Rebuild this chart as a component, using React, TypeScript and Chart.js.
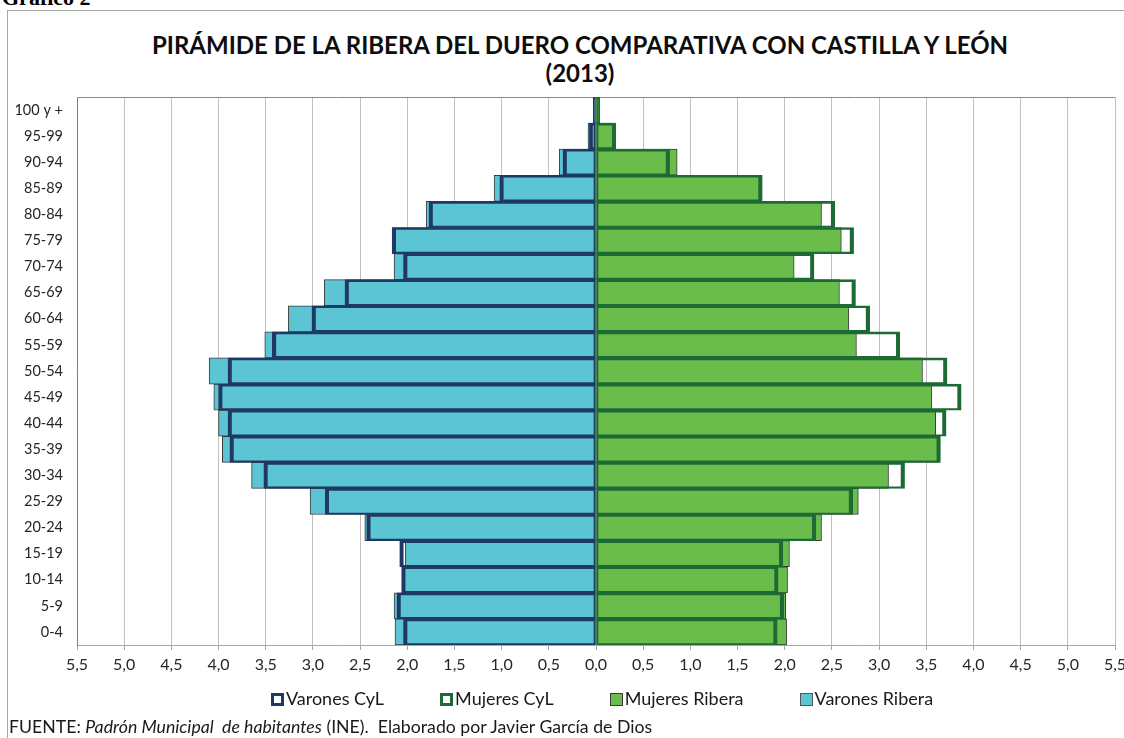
import React, { useEffect, useRef } from 'react';
import { Chart, registerables } from 'chart.js';

Chart.register(...registerables);

// ---- Data (percent of total population, 2013) ----
const ageGroups = [
  '0-4', '5-9', '10-14', '15-19', '20-24', '25-29', '30-34', '35-39', '40-44', '45-49',
  '50-54', '55-59', '60-64', '65-69', '70-74', '75-79', '80-84', '85-89', '90-94', '95-99', '100 y +',
];

const varonesCyL = [
  2.04, 2.11, 2.06, 2.08, 2.43, 2.87, 3.52, 3.88, 3.90, 4.00,
  3.90, 3.43, 3.01, 2.66, 2.04, 2.16, 1.77, 1.02, 0.35, 0.07, 0.03,
];

const mujeresCyL = [
  1.92, 1.99, 1.93, 1.98, 2.33, 2.72, 3.27, 3.65, 3.71, 3.87,
  3.72, 3.22, 2.90, 2.75, 2.31, 2.73, 2.53, 1.76, 0.78, 0.21, 0.04,
];

const mujeresRibera = [
  2.02, 2.01, 2.03, 2.05, 2.39, 2.78, 3.10, 3.64, 3.60, 3.56,
  3.46, 2.76, 2.68, 2.58, 2.10, 2.60, 2.39, 1.76, 0.86, 0.20, 0.04,
];

const varonesRibera = [
  2.13, 2.14, 2.04, 2.02, 2.45, 3.03, 3.65, 3.96, 4.00, 4.05,
  4.10, 3.51, 3.26, 2.88, 2.14, 2.16, 1.80, 1.08, 0.39, 0.085, 0.02,
];

const seriesLabels = ['Varones CyL', 'Mujeres CyL', 'Mujeres Ribera', 'Varones Ribera'];

const titleLines = [
  'PIRÁMIDE DE LA RIBERA DEL DUERO COMPARATIVA CON CASTILLA Y LEÓN',
  '(2013)',
];

const axisMin = -5.5;
const axisMax = 5.5;
const axisStep = 0.5;

// ---- Styles ----
const NAVY = '#1F3864';
const DKGREEN = '#1C6A34';
const CYAN = '#5BC5D4';
const GREEN = '#6BBD4B';
const THIN = '#3a3a3a';
const GRID = '#BFBFBF';
const FONT = 'Lato, "Open Sans", sans-serif';

const frameTopPlugin = {
  id: 'frameTop',
  beforeDatasetsDraw(chart: any) {
    const { ctx, chartArea } = chart;
    ctx.save();
    ctx.strokeStyle = '#8c8c8c';
    ctx.lineWidth = 1;
    ctx.beginPath();
    ctx.moveTo(chartArea.left, chartArea.top + 0.5);
    ctx.lineTo(chartArea.right, chartArea.top + 0.5);
    ctx.stroke();
    ctx.restore();
  },
};

const legendPlugin = {
  id: 'excelLegend',
  afterDraw(chart: any) {
    const { ctx, chartArea } = chart;
    const box = 12;
    const boxGap = 3;
    const itemGap = 56;
    ctx.save();
    ctx.font = `18px ${FONT}`;
    ctx.textBaseline = 'middle';
    ctx.textAlign = 'left';
    const items = chart.data.datasets.map((ds: any) => ({
      text: ds.label,
      fill: ds.legendFill,
      stroke: ds.legendStroke,
      lw: ds.legendLineWidth,
    }));
    const widths = items.map((it: any) => box + boxGap + ctx.measureText(it.text).width);
    const total = widths.reduce((a: number, b: number) => a + b, 0) + itemGap * (items.length - 1);
    let x = (chartArea.left + chartArea.right) / 2 + 6 - total / 2;
    const y = chartArea.bottom + 54;
    items.forEach((it: any, i: number) => {
      const bx = Math.round(x) + 0.5;
      const by = Math.round(y - box / 2) + 0.5;
      ctx.fillStyle = it.fill;
      ctx.fillRect(bx, by, box, box);
      ctx.strokeStyle = it.stroke;
      ctx.lineWidth = it.lw;
      const inset = it.lw / 2 - 0.5;
      ctx.strokeRect(bx + inset, by + inset, box - 2 * inset, box - 2 * inset);
      ctx.fillStyle = '#1a1a1a';
      ctx.fillText(it.text, x + box + boxGap, y);
      x += widths[i] + itemGap;
    });
    ctx.restore();
  },
};

const fmt = (v: number) => Math.abs(v).toFixed(1).replace('.', ',');

export default function App() {
  const canvasRef = useRef<HTMLCanvasElement | null>(null);

  useEffect(() => {
    const canvas = canvasRef.current;
    if (!canvas) return;
    const chart = new Chart(canvas, {
      type: 'bar',
      data: {
        labels: ageGroups,
        datasets: [
          {
            label: seriesLabels[0],
            data: varonesCyL.map((v) => -v),
            backgroundColor: 'rgba(0,0,0,0)',
            borderColor: NAVY,
            borderWidth: { left: 3.5, right: 1.5, top: 2, bottom: 1.5 },
            borderSkipped: false,
            grouped: false,
            barPercentage: 1,
            categoryPercentage: 1,
            legendFill: '#ffffff',
            legendStroke: NAVY,
            legendLineWidth: 3,
          } as any,
          {
            label: seriesLabels[1],
            data: mujeresCyL,
            backgroundColor: 'rgba(0,0,0,0)',
            borderColor: DKGREEN,
            borderWidth: { left: 1.5, right: 3.5, top: 2, bottom: 1.5 },
            borderSkipped: false,
            grouped: false,
            barPercentage: 1,
            categoryPercentage: 1,
            legendFill: '#ffffff',
            legendStroke: DKGREEN,
            legendLineWidth: 3,
          } as any,
          {
            label: seriesLabels[2],
            data: mujeresRibera,
            backgroundColor: GREEN,
            borderColor: THIN,
            borderWidth: 1,
            borderSkipped: 'start',
            grouped: false,
            barPercentage: 1,
            categoryPercentage: 1,
            legendFill: GREEN,
            legendStroke: THIN,
            legendLineWidth: 1,
          } as any,
          {
            label: seriesLabels[3],
            data: varonesRibera.map((v) => -v),
            backgroundColor: CYAN,
            borderColor: THIN,
            borderWidth: 1,
            borderSkipped: 'start',
            grouped: false,
            barPercentage: 1,
            categoryPercentage: 1,
            legendFill: CYAN,
            legendStroke: '#555',
            legendLineWidth: 1,
          } as any,
        ],
      },
      options: {
        indexAxis: 'y',
        responsive: false,
        animation: false,
        devicePixelRatio: 1,
        layout: { padding: { left: 0, right: 45, top: 97, bottom: 0 } },
        plugins: {
          legend: { display: false },
          tooltip: { enabled: false },
          title: { display: false },
        },
        scales: {
          x: {
            type: 'linear',
            min: axisMin,
            max: axisMax,
            afterFit: (s: any) => { s.height = 93; },
            ticks: {
              stepSize: axisStep,
              callback: (v: any) => fmt(Number(v)),
              color: '#262626',
              font: { family: FONT, size: 16 },
              padding: 5,
              maxRotation: 0,
              autoSkip: false,
            },
            grid: { color: GRID, lineWidth: 1, drawTicks: true, tickLength: 5, tickColor: '#a6a6a6' },
            border: { display: true, color: '#a6a6a6' },
          },
          y: {
            type: 'category',
            reverse: true,
            afterFit: (s: any) => { s.width = 77; },
            ticks: {
              color: '#262626',
              font: { family: FONT, size: 14.5 },
              padding: 14,
              autoSkip: false,
            },
            grid: { display: false, drawTicks: false },
            border: { display: true, color: '#808080' },
          },
        },
      } as any,
      plugins: [frameTopPlugin, legendPlugin],
    });
    return () => chart.destroy();
  }, []);

  return (
    <div style={{ position: 'fixed', left: 0, top: 0, width: 1124, height: 738, overflow: 'hidden', background: '#fff' }}>
      <div
        style={{
          position: 'absolute', left: 7, top: 10, width: 1300, height: 900,
          border: '1px solid #a6a6a6', boxSizing: 'border-box',
        }}
      />
      <div
        style={{
          position: 'absolute', left: 2, top: -13, fontFamily: '"Liberation Serif", serif',
          fontWeight: 'bold', fontSize: 22, lineHeight: '22px', color: '#000', whiteSpace: 'pre',
        }}
      >
        Gráfico 2
      </div>
      <div
        style={{
          position: 'absolute', left: 0, top: 31, width: 1160, textAlign: 'center',
          fontFamily: FONT, fontWeight: 'bold', fontSize: 24, lineHeight: '28px', color: '#0d0d0d',
        }}
      >
        {titleLines.map((t) => (
          <div key={t}>{t}</div>
        ))}
      </div>
      <canvas
        ref={canvasRef}
        width={1160}
        height={738}
        style={{ position: 'absolute', left: 0, top: 0, width: 1160, height: 738 }}
      />
      <div
        style={{
          position: 'absolute', left: 9, top: 716, fontFamily: FONT, fontSize: 17.7,
          lineHeight: '22px', color: '#1a1a1a', whiteSpace: 'pre',
        }}
      >
        FUENTE: <i>Padrón Municipal  de habitantes</i> (INE).  Elaborado por Javier García de Dios
      </div>
    </div>
  );
}
